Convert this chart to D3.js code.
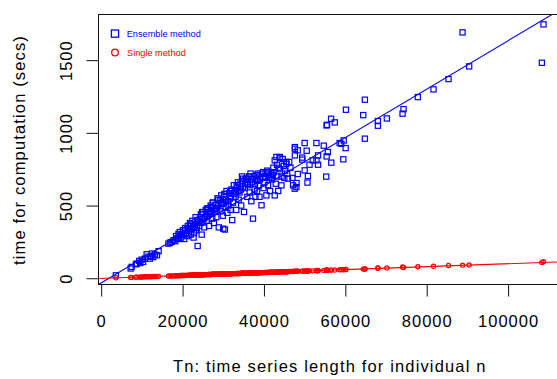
<!DOCTYPE html>
<html>
<head>
<meta charset="utf-8">
<script src="https://cdn.jsdelivr.net/npm/d3@7"></script>
<style>
body { margin: 0; background: #fff; }
text { font-family: "Liberation Sans", Arial, Helvetica, sans-serif; }
</style>
</head>
<body>
<svg width="557" height="379"></svg>
<script>
// time series length for each individual n
var tn = [
  3600, 7240, 7480, 8540, 8700, 9350, 9940, 10750, 11170, 11980,
  12220, 12790, 13200, 14100, 11500, 10300, 12500, 9600, 13700, 16500,
  17300, 16900, 17800, 18200, 18400, 18700, 19000, 19300, 19600, 19900,
  20100, 20400, 20600, 20900, 21100, 21300, 21600, 21800, 22000, 22200,
  22400, 22600, 22800, 23000, 23200, 23500, 23700, 23900, 22700, 23300,
  24100, 24250, 24500, 24700, 24900, 25100, 25300, 25500, 25700, 25900,
  26100, 26300, 26500, 26700, 26900, 27100, 27300, 27500, 27700, 27900,
  28100, 28300, 28500, 28700, 28900, 29150, 29300, 29500, 29700, 29900,
  30000, 30200, 30400, 30600, 30800, 31000, 31200, 31400, 31600, 31800,
  32000, 32200, 32400, 32600, 32800, 33000, 33200, 33400, 33600, 33800,
  34000, 34200, 34400, 34600, 34900, 35100, 35300, 35500, 35700, 35900,
  36100, 36300, 36500, 36700, 36900, 37100, 37300, 37500, 37700, 37900,
  38100, 38300, 38500, 38700, 38900, 39100, 39400, 39600, 39800, 39900,
  40100, 40300, 40600, 40800, 41000, 41300, 41500, 41800, 42000, 42300,
  42650, 42650, 43060, 43300, 43600, 43900, 43900, 42900, 43500, 42400,
  44300, 44300, 44860, 45000, 45500, 45500, 45900, 45200, 44600, 45700,
  47150, 47550, 47600, 47600, 47600, 47970, 46500, 47000, 46200, 48000,
  48300, 48300, 49400, 49400, 50000, 50000, 50500, 50700, 50800, 51200,
  52000, 52900, 52900, 53300, 53300, 54700, 55300, 55400, 55400, 55700,
  56500, 56550, 57400, 58600, 59000, 59500, 59600, 60070, 60150, 55500,
  64400, 64800, 64800, 68000, 68000, 70200, 74060, 74300, 77820, 81670,
  85350, 88800, 90430, 108300, 108700,
  18900, 19500, 20300, 21000, 21500, 22100, 22900, 23600, 24400, 25200,
  25800, 26400, 27000, 27600, 28200, 28800, 29400, 30100, 30700, 31300,
  31900, 32500, 33100, 33700, 34300, 34800, 35400, 36000, 36600, 37200,
  37800, 38400, 39000, 39700, 40400, 41100, 41700, 42200, 43200, 44000,
  24800, 26000, 27400, 28600, 30300, 31700, 33300, 34700, 36400, 38200
];

// computation time (secs), ensemble method
var ensembleSecs = [
  20, 67, 78, 96, 101, 119, 128, 135, 165, 135,
  153, 146, 163, 186, 148, 112, 170, 105, 158, 238,
  250, 245, 262, 255, 290, 275, 305, 318, 280, 300,
  330, 270, 345, 310, 290, 360, 325, 380, 300, 340,
  395, 355, 310, 370, 420, 345, 222, 390, 280, 330,
  360, 410, 440, 300, 385, 455, 350, 420, 470, 395,
  430, 480, 360, 445, 500, 490, 410, 520, 380, 460,
  505, 420, 480, 540, 350, 536, 460, 570, 510, 430,
  341, 560, 335, 490, 600, 450, 530, 585, 548, 470,
  610, 400, 520, 640, 605, 560, 470, 620, 660, 540,
  590, 650, 500, 700, 685, 456, 620, 680, 685, 560,
  640, 700, 590, 720, 530, 660, 410, 700, 610, 560,
  680, 600, 720, 640, 560, 700, 502, 719, 730, 620,
  660, 700, 570, 740, 640, 690, 600, 720, 680, 760,
  811, 570, 834, 700, 760, 829, 834, 650, 600, 730,
  639, 700, 772, 690, 788, 800, 685, 740, 820, 720,
  639, 616, 891, 902, 845, 627, 760, 690, 800, 655,
  717, 880, 816, 830, 742, 930, 877, 658, 703, 781,
  811, 930, 811, 845, 781, 912, 699, 838, 1051, 868,
  1097, 795, 1072, 930, 925, 818, 948, 895, 1159, 1055,
  1122, 1228, 960, 1081, 1049, 1099, 1132, 1163, 1246, 1299,
  1370, 1691, 1457, 1482, 1746,
  270, 295, 300, 335, 345, 370, 350, 400, 380, 410,
  440, 455, 460, 470, 480, 500, 520, 515, 540, 500,
  560, 580, 590, 600, 610, 630, 650, 660, 650, 680,
  650, 670, 680, 690, 720, 730, 700, 710, 780, 750,
  455, 480, 520, 550, 580, 600, 640, 670, 700, 710
];

// computation time (secs), single method
var singleSecs = [
  3, 6, 6, 7, 8, 8, 9, 10, 10, 11,
  11, 12, 12, 13, 10, 9, 11, 8, 12, 15,
  16, 15, 16, 17, 17, 18, 18, 18, 19, 19,
  19, 19, 20, 20, 20, 20, 21, 21, 21, 21,
  21, 22, 22, 22, 22, 23, 23, 23, 22, 22,
  23, 23, 24, 24, 24, 24, 24, 25, 25, 25,
  25, 26, 26, 26, 26, 26, 27, 27, 27, 27,
  27, 28, 28, 28, 28, 28, 29, 29, 29, 29,
  29, 29, 30, 30, 30, 30, 30, 31, 31, 31,
  31, 31, 32, 32, 32, 32, 32, 33, 33, 33,
  33, 33, 34, 34, 34, 34, 35, 35, 35, 35,
  35, 36, 36, 36, 36, 36, 37, 37, 37, 37,
  37, 38, 38, 38, 38, 38, 39, 39, 39, 39,
  39, 40, 40, 40, 40, 41, 41, 41, 41, 42,
  42, 42, 42, 43, 43, 43, 44, 42, 43, 42,
  44, 44, 44, 44, 45, 45, 45, 45, 44, 45,
  47, 47, 47, 47, 48, 47, 46, 46, 46, 48,
  48, 48, 49, 49, 50, 49, 50, 50, 50, 51,
  51, 52, 53, 53, 52, 54, 55, 55, 55, 55,
  56, 56, 57, 58, 59, 59, 59, 60, 60, 55,
  63, 64, 64, 69, 70, 71, 77, 74, 79, 83,
  88, 90, 91, 109, 114,
  18, 19, 19, 20, 21, 21, 22, 23, 24, 24,
  25, 26, 26, 27, 27, 28, 29, 29, 30, 30,
  31, 32, 32, 33, 33, 34, 35, 35, 36, 36,
  37, 38, 38, 39, 40, 40, 41, 42, 43, 43,
  24, 25, 27, 28, 30, 31, 32, 34, 35, 37
];

// fitted lines: [intercept, slope]
var ensembleFit = [-32, 0.01666];
var singleFit = [-1.3, 0.001013];

var xTicks = [0, 20000, 40000, 60000, 80000, 100000];
var yTicks = [0, 500, 1000, 1500];
var legendLabels = ["Ensemble method", "Single method"];

var svg = d3.select("svg");

// plot region (right edge runs just past the window)
var plotLeft = 98.5, plotTop = 14.5, plotBottom = 284.5, plotRight = 561;

var x = d3.scaleLinear().domain([-663, 113000]).range([plotLeft, plotRight]);
var y = d3.scaleLinear().domain([-43, 1814]).range([plotBottom, plotTop]);

var ensemblePts = tn.map(function(d, i) { return { x: d, y: ensembleSecs[i] }; });
var singlePts = tn.map(function(d, i) { return { x: d, y: singleSecs[i] }; });

svg.append("clipPath").attr("id", "plotclip")
  .append("rect")
  .attr("x", plotLeft).attr("y", plotTop)
  .attr("width", plotRight - plotLeft).attr("height", plotBottom - plotTop);

var plot = svg.append("g").attr("clip-path", "url(#plotclip)");

// ensemble points (open squares)
plot.selectAll(".sq")
  .data(ensemblePts)
  .enter().append("rect")
  .attr("class", "sq")
  .attr("x", function(d) { return x(d.x) - 2.6; })
  .attr("y", function(d) { return y(d.y) - 2.6; })
  .attr("width", 5.2)
  .attr("height", 5.2)
  .attr("fill", "none")
  .attr("stroke", "#0000ff")
  .attr("stroke-width", 1.2);

// single points (open circles)
plot.selectAll(".ci")
  .data(singlePts)
  .enter().append("circle")
  .attr("class", "ci")
  .attr("cx", function(d) { return x(d.x); })
  .attr("cy", function(d) { return y(d.y); })
  .attr("r", 2.1)
  .attr("fill", "none")
  .attr("stroke", "#ff0000")
  .attr("stroke-width", 1.2);

// regression lines across the whole x domain
function fitLine(fit, color) {
  var xs = x.domain();
  var line = d3.line()
    .x(function(d) { return x(d); })
    .y(function(d) { return y(fit[0] + fit[1] * d); });
  plot.append("path")
    .datum(xs)
    .attr("fill", "none")
    .attr("stroke", color)
    .attr("stroke-width", 1.1)
    .attr("d", line);
}
fitLine(ensembleFit, "#0000ff");
fitLine(singleFit, "#ff0000");

// box
svg.append("rect")
  .attr("x", plotLeft).attr("y", plotTop)
  .attr("width", plotRight - plotLeft).attr("height", plotBottom - plotTop)
  .attr("fill", "none")
  .attr("stroke", "#111")
  .attr("stroke-width", 1);

// x axis
var gx = svg.append("g")
  .attr("transform", "translate(0," + plotBottom + ")")
  .call(d3.axisBottom(x).tickValues(xTicks).tickSize(12).tickFormat(d3.format("d")));
gx.select(".domain").remove();
gx.selectAll("line").attr("stroke", "#111");
gx.selectAll("text")
  .attr("y", 42.2)
  .attr("dy", 0)
  .attr("fill", "#000")
  .style("font-family", '"Liberation Sans", Arial, sans-serif')
  .style("font-size", "16.5px")
  .style("letter-spacing", "1px");

// y axis
var gy = svg.append("g")
  .attr("transform", "translate(" + plotLeft + ",0)")
  .call(d3.axisLeft(y).tickValues(yTicks).tickSize(12).tickFormat(d3.format("d")));
gy.select(".domain").remove();
gy.selectAll("line").attr("stroke", "#111");
gy.selectAll("text")
  .attr("x", 0)
  .attr("dy", 0)
  .attr("text-anchor", "middle")
  .attr("transform", "translate(-27,0) rotate(-90)")
  .attr("fill", "#000")
  .style("font-family", '"Liberation Sans", Arial, sans-serif')
  .style("font-size", "16.5px")
  .style("letter-spacing", "1px");

// axis titles
svg.append("text")
  .attr("x", (plotLeft + plotRight) / 2)
  .attr("y", 372)
  .attr("text-anchor", "middle")
  .style("font-size", "16.5px")
  .style("letter-spacing", "1.15px")
  .text("Tn: time series length for individual n");

svg.append("text")
  .attr("transform", "translate(25.3,150) rotate(-90)")
  .attr("text-anchor", "middle")
  .style("font-size", "16.5px")
  .style("letter-spacing", "1.15px")
  .text("time for computation (secs)");

// legend
var legend = svg.append("g");
legend.append("rect")
  .attr("x", 111.4).attr("y", 30)
  .attr("width", 7.2).attr("height", 7.2)
  .attr("fill", "none")
  .attr("stroke", "#0000ff")
  .attr("stroke-width", 1.3);
legend.append("circle")
  .attr("cx", 115).attr("cy", 52.5).attr("r", 3.3)
  .attr("fill", "none")
  .attr("stroke", "#ff0000")
  .attr("stroke-width", 1.3);
legend.append("text")
  .attr("x", 126.7).attr("y", 37.2)
  .attr("fill", "#0000ff")
  .style("font-size", "9.2px")
  .text(legendLabels[0]);
legend.append("text")
  .attr("x", 127).attr("y", 56)
  .attr("fill", "#ff0000")
  .style("font-size", "9.2px")
  .text(legendLabels[1]);
</script>
</body>
</html>
